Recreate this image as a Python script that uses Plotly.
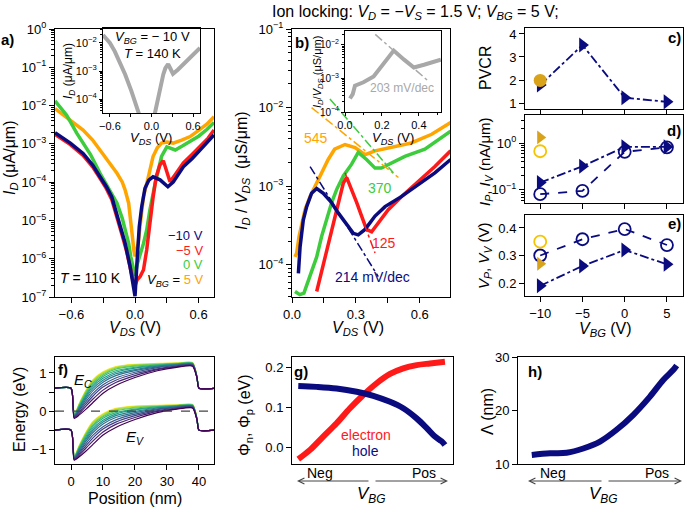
import plotly.graph_objects as go
from plotly.colors import sample_colorscale

# ---------------- data ----------------
# panel a: I_D vs V_DS (log10 of µA/µm)
A_BLUE_V = [-0.755, -0.61, -0.49, -0.40, -0.33, -0.27, -0.22, -0.157, -0.094, -0.047, -0.016, 0.0,
            0.022, 0.04, 0.063, 0.094, 0.13, 0.17, 0.236, 0.28, 0.31, 0.36, 0.456, 0.54, 0.613, 0.69, 0.745]
A_BLUE_L = [-2.71, -2.98, -3.25, -3.55, -3.86, -4.12, -4.38, -4.99, -5.59, -6.2, -6.75, -6.98,
            -5.94, -5.16, -4.64, -4.16, -3.95, -3.86, -3.94, -4.05, -4.12, -4.0, -3.6, -3.38, -3.16, -2.95, -2.77]
A_RED_V = [-0.755, -0.61, -0.49, -0.40, -0.33, -0.27, -0.22, -0.17, -0.12, -0.08, -0.05, -0.02, 0.0,
           0.02, 0.047, 0.08, 0.11, 0.14, 0.17, 0.2, 0.235, 0.267, 0.30, 0.33, 0.38, 0.456, 0.54, 0.613, 0.69, 0.745]
A_RED_L = [-2.75, -3.02, -3.3, -3.6, -3.9, -4.17, -4.45, -4.9, -5.4, -5.8, -6.2, -6.55, -6.7,
           -6.55, -6.47, -6.29, -5.77, -4.99, -4.4, -3.85, -3.55, -3.44, -3.75, -3.99, -3.8, -3.5, -3.27, -3.05, -2.85, -2.64]
A_GREEN_V = [-0.755, -0.70, -0.645, -0.55, -0.42, -0.33, -0.24, -0.17, -0.12, -0.094, -0.06, -0.04, -0.02, 0.0,
             0.02, 0.05, 0.08, 0.11, 0.14, 0.19, 0.25, 0.30, 0.34, 0.38, 0.45, 0.52, 0.60, 0.68, 0.745]
A_GREEN_L = [-1.88, -2.05, -2.25, -2.72, -3.28, -3.77, -4.2, -4.55, -4.95, -5.25, -5.6, -5.95, -6.25, -6.45,
             -6.15, -5.9, -5.6, -5.25, -4.73, -4.03, -3.33, -3.08, -3.12, -3.16, -3.05, -2.94, -2.8, -2.62, -2.44]
A_ORANGE_V = [-0.755, -0.65, -0.55, -0.49, -0.40, -0.33, -0.25, -0.17, -0.12, -0.094, -0.06, -0.047, -0.03, -0.01, 0.0,
              0.015, 0.03, 0.054, 0.08, 0.126, 0.17, 0.21, 0.25, 0.30, 0.36, 0.44, 0.52, 0.60, 0.68, 0.745]
A_ORANGE_L = [-2.08, -2.3, -2.5, -2.64, -2.9, -3.16, -3.45, -3.77, -4.0, -4.2, -4.55, -4.9, -5.42, -5.8, -5.94,
              -5.8, -5.6, -4.99, -4.38, -3.86, -3.33, -3.1, -2.98, -2.95, -2.98, -2.9, -2.81, -2.65, -2.48, -2.29]
# panel a inset (V_BG = -10 V, T = 140 K)
AI_LEFT_V = [-0.70, -0.6, -0.53, -0.45, -0.38, -0.29, -0.21, -0.17]
AI_LEFT_L = [-1.72, -2.0, -2.3, -2.7, -3.12, -3.71, -4.41, -4.6]
AI_RIGHT_V = [0.04, 0.08, 0.12, 0.17, 0.2, 0.24, 0.27, 0.31, 0.38, 0.44, 0.52, 0.58, 0.70]
AI_RIGHT_L = [-4.6, -4.1, -3.71, -3.12, -2.9, -2.75, -2.9, -3.1, -2.95, -2.8, -2.65, -2.48, -2.18]

# panel b: I_D/V_DS vs V_DS (log10 of µS/µm)
B_ORANGE_V = [0.014, 0.022, 0.033, 0.045, 0.061, 0.085, 0.116, 0.139, 0.17, 0.2, 0.249, 0.296, 0.343, 0.39, 0.483, 0.56, 0.656, 0.745]
B_ORANGE_L = [-3.9, -3.85, -3.64, -3.51, -3.30, -3.13, -2.96, -2.83, -2.66, -2.53, -2.47, -2.51, -2.6, -2.55, -2.49, -2.45, -2.34, -2.19]
B_GREEN_V = [0.014, 0.037, 0.056, 0.085, 0.116, 0.139, 0.163, 0.186, 0.21, 0.241, 0.28, 0.311, 0.35, 0.39, 0.42, 0.468, 0.53, 0.624, 0.745]
B_GREEN_L = [-4.34, -4.38, -4.36, -4.15, -3.9, -3.64, -3.43, -3.21, -3.04, -2.87, -2.72, -2.57, -2.66, -2.77, -2.77, -2.70, -2.62, -2.53, -2.30]
B_RED_V = [0.116, 0.131, 0.147, 0.163, 0.178, 0.194, 0.21, 0.225, 0.241, 0.257, 0.28, 0.304, 0.327, 0.35, 0.374, 0.405, 0.452, 0.515, 0.593, 0.671, 0.745]
B_RED_L = [-4.34, -4.17, -3.98, -3.81, -3.64, -3.47, -3.30, -3.13, -2.96, -2.89, -3.04, -3.21, -3.38, -3.55, -3.58, -3.47, -3.30, -3.13, -2.94, -2.75, -2.55]
B_BLUE_V = [0.03, 0.038, 0.053, 0.069, 0.092, 0.116, 0.147, 0.186, 0.217, 0.257, 0.288, 0.311, 0.343, 0.39, 0.437, 0.515, 0.593, 0.671, 0.745]
B_BLUE_L = [-4.11, -3.77, -3.43, -3.26, -3.09, -3.03, -3.09, -3.21, -3.34, -3.49, -3.60, -3.62, -3.55, -3.38, -3.26, -3.13, -2.98, -2.83, -2.66]
# slope fits (endpoints)
FIT_ORANGE_V, FIT_ORANGE_L = [0.092, 0.5], [-2.0, -2.89]
FIT_GREEN_V, FIT_GREEN_L = [0.178, 0.476], [-1.89, -2.83]
FIT_RED_V, FIT_RED_L = [0.249, 0.39], [-2.83, -3.85]
FIT_BLUE_V, FIT_BLUE_L = [0.085, 0.405], [-2.75, -4.15]
FIT_LABELS = ["545", "370", "125", "214 mV/dec"]
# panel b inset
BI_V = [0.027, 0.042, 0.054, 0.1, 0.155, 0.2, 0.237, 0.264, 0.32, 0.373, 0.428, 0.482, 0.519]
BI_L = [-3.6, -3.47, -3.22, -3.12, -2.95, -2.65, -2.4, -2.18, -2.45, -2.68, -2.6, -2.5, -2.45]
BI_FIT_V, BI_FIT_L = [0.164, 0.446], [-1.7, -3.06]

# panels c-e
VBG = [-10, -5, 0, 5]
PVCR = [1.78, 3.52, 1.23, 1.05]
PVCR_GOLD = 1.98
IP = [0.143, 0.32, 0.83, 0.83]
IV = [0.081, 0.095, 0.65, 0.81]
IP_GOLD, IV_GOLD = 1.32, 0.67
VP = [0.19, 0.262, 0.32, 0.268]
VV = [0.30, 0.359, 0.396, 0.338]
VP_GOLD, VV_GOLD = 0.27, 0.35

# panel f: band diagram E_C (eV); E_V = E_C - gap
F_POS = [-5, 0, 1, 2.6, 4.7, 6.8, 10, 14, 20, 27, 33, 38, 39.4, 40, 45]
F_OUTSIDE = 0.6
F_GAP = 1.1
F_EC_INNER = [
    [-0.10, 0.20, 0.55, 0.82, 1.03, 1.17, 1.23, 1.25, 1.26, 1.27, 0.90],
    [-0.10, 0.19, 0.53, 0.80, 1.01, 1.15, 1.22, 1.24, 1.26, 1.27, 0.90],
    [-0.11, 0.17, 0.51, 0.77, 0.98, 1.13, 1.20, 1.23, 1.25, 1.26, 0.90],
    [-0.11, 0.16, 0.48, 0.73, 0.95, 1.10, 1.18, 1.22, 1.24, 1.26, 0.89],
    [-0.12, 0.13, 0.44, 0.69, 0.91, 1.06, 1.15, 1.21, 1.24, 1.25, 0.89],
    [-0.13, 0.11, 0.40, 0.64, 0.86, 1.02, 1.13, 1.19, 1.23, 1.24, 0.89],
    [-0.14, 0.08, 0.36, 0.59, 0.81, 0.98, 1.09, 1.18, 1.22, 1.23, 0.88],
    [-0.14, 0.05, 0.31, 0.53, 0.76, 0.93, 1.06, 1.16, 1.21, 1.23, 0.88],
    [-0.15, 0.02, 0.25, 0.46, 0.69, 0.87, 1.02, 1.14, 1.19, 1.22, 0.88],
    [-0.16, -0.02, 0.19, 0.39, 0.63, 0.81, 0.98, 1.11, 1.18, 1.21, 0.87],
    [-0.18, -0.06, 0.13, 0.31, 0.55, 0.75, 0.93, 1.09, 1.16, 1.19, 0.87],
    [-0.19, -0.10, 0.05, 0.22, 0.47, 0.67, 0.88, 1.06, 1.15, 1.18, 0.86],
]

# panel g: barrier heights vs V_BG (Neg -> Pos, fraction of axis)
G_EL_X = [0.039, 0.112, 0.194, 0.277, 0.36, 0.443, 0.526, 0.609, 0.691, 0.774, 0.857, 0.95]
G_EL_Y = [-0.028, -0.005, 0.028, 0.061, 0.098, 0.131, 0.16, 0.183, 0.197, 0.205, 0.209, 0.213]
G_HO_X = [0.039, 0.153, 0.277, 0.402, 0.505, 0.609, 0.691, 0.774, 0.837, 0.888, 0.93, 0.95]
G_HO_Y = [0.153, 0.151, 0.147, 0.139, 0.129, 0.114, 0.098, 0.073, 0.049, 0.028, 0.016, 0.007]
# panel h: Lambda (nm)
H_X = [0.083, 0.193, 0.293, 0.393, 0.494, 0.594, 0.695, 0.795, 0.875, 0.936, 0.956]
H_Y = [11.7, 12.0, 12.1, 12.9, 14.2, 16.4, 19.2, 22.6, 25.7, 27.6, 28.4]

# ---------------- styling ----------------
W, H = 685, 507
FONT = "Liberation Sans, Arial, sans-serif"
NAVY, RED, GREEN, ORANGE = "#0b0b80", "#ff1a1a", "#3ccc3c", "#ffa500"
GOLD, YEL = "#d9a21b", "#f5c400"
GRAY = "#a8a8a8"


def xd(a, b):
    return [a / W, b / W]


def yd(top, bot):
    return [1 - bot / H, 1 - top / H]


def P(v):
    return [10 ** x for x in v]


def sup(e):
    return "10<sup>" + ("−" + str(-e) if e < 0 else str(e)) + "</sup>"


def minor_log(lo, hi):
    vals = []
    for k in range(lo, hi):
        for m in range(2, 10):
            vals.append(m * 10 ** k)
    return vals


fig = go.Figure()


def ax(**kw):
    base = dict(showline=True, linecolor="black", linewidth=1, mirror=True, automargin=False,
                ticks="outside", ticklen=5, tickwidth=1, tickcolor="black",
                showgrid=False, zeroline=False, tickfont=dict(size=13, family=FONT, color="black"))
    base.update(kw)
    return base


def line_tr(x, y, color, xa, ya, width=3, mode="lines", dash=None, shape="linear"):
    fig.add_trace(go.Scatter(x=x, y=y, mode=mode, xaxis=xa, yaxis=ya,
                             line=dict(color=color, width=width, dash=dash, shape=shape),
                             showlegend=False, hoverinfo="skip"))


# panel a
for V, L, c in [(A_ORANGE_V, A_ORANGE_L, ORANGE), (A_GREEN_V, A_GREEN_L, GREEN),
                (A_RED_V, A_RED_L, RED), (A_BLUE_V, A_BLUE_L, NAVY)]:
    line_tr(V, P(L), c, "x", "y", width=3.5)
line_tr(AI_LEFT_V + [None] + AI_RIGHT_V, P(AI_LEFT_L) + [None] + P(AI_RIGHT_L), GRAY, "x2", "y2", width=4)

# panel b
for V, L, c in [(B_ORANGE_V, B_ORANGE_L, ORANGE), (B_GREEN_V, B_GREEN_L, GREEN),
                (B_RED_V, B_RED_L, RED), (B_BLUE_V, B_BLUE_L, NAVY)]:
    line_tr(V, P(L), c, "x3", "y3", width=3.5)
for V, L, c in [(FIT_ORANGE_V, FIT_ORANGE_L, ORANGE), (FIT_GREEN_V, FIT_GREEN_L, GREEN),
                (FIT_RED_V, FIT_RED_L, RED), (FIT_BLUE_V, FIT_BLUE_L, NAVY)]:
    line_tr(V, P(L), c, "x3", "y3", width=1.5, dash="dashdot")
line_tr(BI_V, P(BI_L), GRAY, "x4", "y4", width=4)
line_tr(BI_FIT_V, P(BI_FIT_L), GRAY, "x4", "y4", width=1.5, dash="dashdot")

# panel c
fig.add_trace(go.Scatter(x=VBG, y=PVCR, mode="lines+markers", xaxis="x5", yaxis="y5", showlegend=False,
                         line=dict(color=NAVY, width=1.8, dash="dashdot"),
                         marker=dict(symbol="triangle-right", size=13, color=NAVY)))
fig.add_trace(go.Scatter(x=[VBG[0]], y=[PVCR_GOLD], mode="markers", xaxis="x5", yaxis="y5", showlegend=False,
                         marker=dict(symbol="circle", size=13, color=GOLD)))
# panel d
fig.add_trace(go.Scatter(x=VBG, y=IP, mode="lines+markers", xaxis="x6", yaxis="y6", showlegend=False,
                         line=dict(color=NAVY, width=1.8, dash="dashdot"),
                         marker=dict(symbol="triangle-right", size=13, color=NAVY)))
fig.add_trace(go.Scatter(x=VBG, y=IV, mode="lines+markers", xaxis="x6", yaxis="y6", showlegend=False,
                         line=dict(color=NAVY, width=1.8, dash="dash"),
                         marker=dict(symbol="circle-open", size=12, color=NAVY, line=dict(width=1.8))))
fig.add_trace(go.Scatter(x=[VBG[0]], y=[IP_GOLD], mode="markers", xaxis="x6", yaxis="y6", showlegend=False,
                         marker=dict(symbol="triangle-right", size=12, color=GOLD)))
fig.add_trace(go.Scatter(x=[VBG[0]], y=[IV_GOLD], mode="markers", xaxis="x6", yaxis="y6", showlegend=False,
                         marker=dict(symbol="circle-open", size=12, color=YEL, line=dict(width=1.8))))
# panel e
fig.add_trace(go.Scatter(x=VBG, y=VV, mode="lines+markers", xaxis="x7", yaxis="y7", showlegend=False,
                         line=dict(color=NAVY, width=1.8, dash="dash"),
                         marker=dict(symbol="circle-open", size=12, color=NAVY, line=dict(width=1.8))))
fig.add_trace(go.Scatter(x=VBG, y=VP, mode="lines+markers", xaxis="x7", yaxis="y7", showlegend=False,
                         line=dict(color=NAVY, width=1.8, dash="dashdot"),
                         marker=dict(symbol="triangle-right", size=13, color=NAVY)))
fig.add_trace(go.Scatter(x=[VBG[0]], y=[VV_GOLD], mode="markers", xaxis="x7", yaxis="y7", showlegend=False,
                         marker=dict(symbol="circle-open", size=12, color=YEL, line=dict(width=1.8))))
fig.add_trace(go.Scatter(x=[VBG[0]], y=[VP_GOLD], mode="markers", xaxis="x7", yaxis="y7", showlegend=False,
                         marker=dict(symbol="triangle-right", size=12, color=GOLD)))

# panel f
cols = sample_colorscale("Viridis", [1 - i / (len(F_EC_INNER) - 1) for i in range(len(F_EC_INNER))])
for row, c in zip(F_EC_INNER, cols):
    ec = [F_OUTSIDE, F_OUTSIDE] + row + [F_OUTSIDE, F_OUTSIDE]
    ev = [e - F_GAP for e in ec]
    for yy in (ec, ev):
        fig.add_trace(go.Scatter(x=F_POS, y=yy, mode="lines", xaxis="x8", yaxis="y8", showlegend=False,
                                 line=dict(color=c, width=1.2, shape="spline", smoothing=0.6), hoverinfo="skip"))
fig.add_trace(go.Scatter(x=[-5, 45], y=[0, 0], mode="lines", xaxis="x8", yaxis="y8", showlegend=False,
                         line=dict(color="#444444", width=1.3, dash="dash")))

# panel g
line_tr(G_EL_X, G_EL_Y, RED, "x9", "y9", width=6, shape="spline")
line_tr(G_HO_X, G_HO_Y, NAVY, "x9", "y9", width=6, shape="spline")
# panel h
line_tr(H_X, H_Y, NAVY, "x10", "y10", width=6, shape="spline")

# ---------------- axes ----------------
SMALL = dict(size=11, family=FONT, color="black")
a_xt = dict(tickvals=[-0.6, 0, 0.6], ticktext=["−0.6", "0.0", "0.6"])


def lin_minor(vals, ln=5):
    return dict(ticks="outside", ticklen=ln, tickcolor="black", tickvals=vals)


fig.update_layout(
    xaxis=ax(domain=xd(55, 214), range=[-0.755, 0.745], anchor="y", minor=lin_minor([-0.3, 0.3]), **a_xt),
    yaxis=ax(domain=yd(29, 297), type="log", range=[-7, 0], anchor="x",
             tickvals=[10 ** k for k in range(-7, 1)], ticktext=[sup(k) for k in range(-7, 1)],
             minor=dict(ticks="outside", ticklen=3, tickcolor="black", tickvals=minor_log(-7, 0))),
    xaxis2=ax(domain=xd(103, 200), range=[-0.70, 0.70], anchor="y2", tickfont=SMALL, ticklen=3,
              minor=lin_minor([-0.3, 0.3], 3), **a_xt),
    yaxis2=ax(domain=yd(28, 113), type="log", range=[-4.49, -1.47], anchor="x2", ticklen=3,
              tickvals=[1e-2, 1e-3, 1e-4], ticktext=[sup(-2), sup(-3), sup(-4)], tickfont=SMALL,
              minor=dict(ticks="outside", ticklen=2, tickcolor="black", tickvals=minor_log(-5, -1))),
    xaxis3=ax(domain=xd(292, 450), range=[0, 0.742], anchor="y3",
              tickvals=[0, 0.3, 0.6], ticktext=["0.0", "0.3", "0.6"], minor=lin_minor([0.15, 0.45])),
    yaxis3=ax(domain=yd(29, 297), type="log", range=[-4.41, -1.0], anchor="x3",
              tickvals=[1e-1, 1e-2, 1e-3, 1e-4], ticktext=[sup(-1), sup(-2), sup(-3), sup(-4)],
              minor=dict(ticks="outside", ticklen=3, tickcolor="black", tickvals=minor_log(-5, -1))),
    xaxis4=ax(domain=xd(345, 441), range=[0, 0.52], anchor="y4", tickfont=SMALL, ticklen=3,
              tickvals=[0, 0.2, 0.4], ticktext=["0.0", "0.2", "0.4"], minor=lin_minor([0.1, 0.3, 0.5], 2)),
    yaxis4=ax(domain=yd(31, 112), type="log", range=[-4, -1.6], anchor="x4", ticklen=3,
              tickvals=[1e-2, 1e-3, 1e-4], ticktext=[sup(-2), sup(-3), sup(-4)], tickfont=dict(size=10, family=FONT),
              minor=dict(ticks="outside", ticklen=2, tickcolor="black", tickvals=minor_log(-4, -1))),
    xaxis5=ax(domain=xd(525, 683), range=[-11.8, 6.9], anchor="y5", tickvals=VBG, showticklabels=False),
    yaxis5=ax(domain=yd(28, 109), range=[0.74, 4.26], anchor="x5", tickvals=[1, 2, 3, 4]),
    xaxis6=ax(domain=xd(525, 683), range=[-11.8, 6.9], anchor="y6", tickvals=VBG, showticklabels=False),
    yaxis6=ax(domain=yd(115, 203), type="log", range=[-1.28, 0.6], anchor="x6",
              tickvals=[1e-1, 1], ticktext=[sup(-1), sup(0)],
              minor=dict(ticks="outside", ticklen=3, tickcolor="black", tickvals=minor_log(-2, 1))),
    xaxis7=ax(domain=xd(525, 683), range=[-11.8, 6.9], anchor="y7", tickvals=VBG,
              ticktext=["−10", "−5", "0", "5"]),
    yaxis7=ax(domain=yd(215, 296), range=[0.153, 0.447], anchor="x7", tickvals=[0.2, 0.3, 0.4],
              ticktext=["0.2", "0.3", "0.4"]),
    xaxis8=ax(domain=xd(55, 214), range=[-5, 44.7], anchor="y8", tickvals=[0, 10, 20, 30, 40]),
    yaxis8=ax(domain=yd(357, 464), range=[-1.39, 1.42], anchor="x8", tickvals=[-1, 0, 1],
              ticktext=["−1", "0", "1"], minor=lin_minor([-0.5, 0.5])),
    xaxis9=ax(domain=xd(292, 453), range=[0, 1], anchor="y9", ticks="", showticklabels=False),
    yaxis9=ax(domain=yd(357, 464), range=[-0.04, 0.225], anchor="x9", tickvals=[0, 0.1, 0.2],
              ticktext=["0.0", "0.1", "0.2"]),
    xaxis10=ax(domain=xd(518, 684), range=[0, 1], anchor="y10", ticks="", showticklabels=False),
    yaxis10=ax(domain=yd(357, 464), range=[10, 30], anchor="x10", tickvals=[10, 20, 30]),
)

# ---------------- text ----------------
ann = []


def T(px, py, text, size=15, color="black", angle=0, xanchor="center", bold=False):
    if bold:
        text = "<b>" + text + "</b>"
    ann.append(dict(x=px / W, y=1 - py / H, xref="paper", yref="paper", text=text, showarrow=False,
                    textangle=angle, xanchor=xanchor, yanchor="middle",
                    font=dict(size=size, color=color, family=FONT)))


VDS = "<i>V</i><sub><i>DS</i></sub> (V)"
T(415, 12, "Ion locking: <i>V</i><sub><i>D</i></sub> = −<i>V</i><sub><i>S</i></sub> = 1.5 V; "
           "<i>V</i><sub><i>BG</i></sub> = 5 V;", size=16)
# a
T(10, 158, "<i>I</i><sub><i>D</i></sub> (μA/μm)", size=16, angle=-90)
T(135, 328, VDS, size=16)
T(69, 71, "<i>I</i><sub><i>D</i></sub> (μA/μm)", size=12, angle=-90)
T(151, 138, VDS, size=13)
T(152, 37, "<i>V</i><sub><i>BG</i></sub> = − 10 V", size=13)
T(152, 54, "<i>T</i> = 140 K", size=13)
T(205, 236, "−10 V", size=13, color=NAVY, xanchor="right")
T(205, 250, "−5 V", size=13, color=RED, xanchor="right")
T(205, 264, "0 V", size=13, color=GREEN, xanchor="right")
T(205, 280, "<span style='color:black'><i>V</i><sub><i>BG</i></sub> = </span>5 V", size=13, color=ORANGE, xanchor="right")
T(90, 278, "<i>T</i> = 110 K", size=14)
T(8, 40, "a)", size=15, bold=True, xanchor="center")
# b
T(243, 170, "<i>I</i><sub><i>D</i></sub> / <i>V</i><sub><i>DS</i></sub>  (μS/μm)", size=16, angle=-90)
T(358, 328, VDS, size=16)
T(318, 72, "<i>I</i><sub><i>D</i></sub>/<i>V</i><sub><i>DS</i></sub> (μS/μm)", size=11, angle=-90)
T(393, 138, VDS, size=13)
T(402, 88, "203 mV/dec", size=12, color=GRAY)
T(316, 138, FIT_LABELS[0], size=14, color=ORANGE)
T(380, 188, FIT_LABELS[1], size=14, color=GREEN)
T(384, 243, FIT_LABELS[2], size=14, color=RED)
T(372, 277, FIT_LABELS[3], size=14, color=NAVY)
T(302, 43, "b)", size=15, bold=True)
# c-e
T(485, 68, "PVCR", size=16, angle=-90)
T(485, 162, "<i>I</i><sub><i>P</i></sub>, <i>I</i><sub><i>V</i></sub> (nA/μm)", size=15, angle=-90)
T(484, 256, "<i>V</i><sub><i>P</i></sub>, <i>V</i><sub><i>V</i></sub> (V)", size=15, angle=-90)
T(605, 329, "<i>V</i><sub><i>BG</i></sub> (V)", size=16)
T(674, 37, "c)", size=15, bold=True)
T(674, 130, "d)", size=15, bold=True)
T(674, 223, "e)", size=15, bold=True)
# f
T(19, 410, "Energy (eV)", size=16, angle=-90)
T(135, 498, "Position (nm)", size=16)
T(63, 369, "f)", size=15, bold=True)
T(83, 380, "<i>E</i><sub><i>C</i></sub>", size=15)
T(135, 437, "<i>E</i><sub><i>V</i></sub>", size=15)
# g
T(245, 415, "Φ<sub>n</sub>, Φ<sub>p</sub> (eV)", size=16, angle=-90)
T(301, 371, "g)", size=15, bold=True)
T(366, 435, "electron", size=14, color=RED)
T(366, 451, "hole", size=14, color=NAVY)
T(320, 473, "Neg", size=14)
T(424, 473, "Pos", size=14)
T(371, 495, "<i>V</i><sub><i>BG</i></sub>", size=17)
# h
T(487, 412, "Λ (nm)", size=16, angle=-90)
T(535, 371, "h)", size=15, bold=True)
T(553, 473, "Neg", size=14)
T(657, 473, "Pos", size=14)
T(603, 495, "<i>V</i><sub><i>BG</i></sub>", size=17)


def arrow(x_head, x_tail, py):
    ann.append(dict(x=x_head / W, y=1 - py / H, xref="paper", yref="paper", axref="pixel", ayref="pixel",
                    ax=x_tail - x_head, ay=0, text="", showarrow=True, arrowhead=5, arrowsize=1.2,
                    arrowwidth=1, arrowcolor="#444444"))


arrow(297, 370, 481)
arrow(448, 374, 481)
arrow(528, 603, 481)
arrow(682, 607, 481)

fig.update_layout(annotations=ann, width=W, height=H, margin=dict(l=0, r=0, t=0, b=0, autoexpand=False),
                  paper_bgcolor="white", plot_bgcolor="rgba(0,0,0,0)",
                  font=dict(family=FONT, size=13, color="black"), showlegend=False)

fig.write_html("out.html", config={"displayModeBar": False},
               post_script="document.body.style.margin='0';document.body.style.overflow='hidden';")
